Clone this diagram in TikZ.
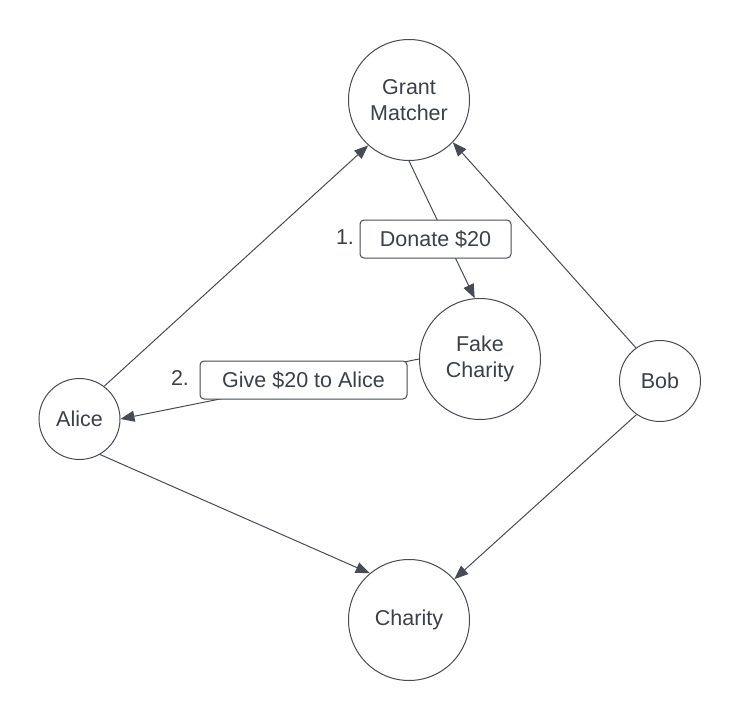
\documentclass[tikz,border=0pt]{standalone}
\usepackage{fontspec}
\setmainfont{Liberation Sans}
\usetikzlibrary{arrows.meta}
\definecolor{ink}{RGB}{58,65,75}
\definecolor{edge}{RGB}{70,75,85}
\begin{document}
\begin{tikzpicture}[x=1pt,y=-1pt,
  every node/.style={text=ink, font=\fontsize{21.5}{26}\selectfont},
  party/.style={circle, draw=edge, line width=1pt, fill=white, inner sep=0pt, align=center},
  big/.style={party, minimum size=121pt},
  small/.style={party, minimum size=81pt},
  flow/.style={draw=edge, line width=1pt, -{Triangle[length=14pt,width=11pt]}},
  tag/.style={draw=edge, line width=1pt, fill=white, rounded corners=4pt, inner sep=0pt},
  num/.style={inner sep=0pt}
]
\useasboundingbox (0,0) rectangle (740,720);
\node[big] (gm) at (409,100) {Grant\\Matcher};
\node[big] (fc) at (480,359) {Fake\\Charity};
\node[small] (alice) at (79.5,419) {Alice};
\node[small] (bob) at (660,381) {Bob};
\node[big] (ch) at (409,620) {Charity};

\draw[flow] (alice.53) -- (gm.228);
\draw[flow] (bob.126) -- (gm.-44);
\draw[flow] (gm.-90) -- (fc.95);
\draw[flow] (fc.180) -- (alice.0);
\draw[flow] (alice.-60) -- (ch.130);
\draw[flow] (bob.235) -- (ch.42);

\node[tag, minimum width=151pt, minimum height=38pt] (donate) at (435.5,239) {Donate \$20};
\node[tag, minimum width=207pt, minimum height=38pt] (give) at (303.5,380) {Give \$20 to Alice};
\node[num] (n1) at (345,237) {1.};
\node[num] (n2) at (180,378) {2.};
\end{tikzpicture}
\end{document}
